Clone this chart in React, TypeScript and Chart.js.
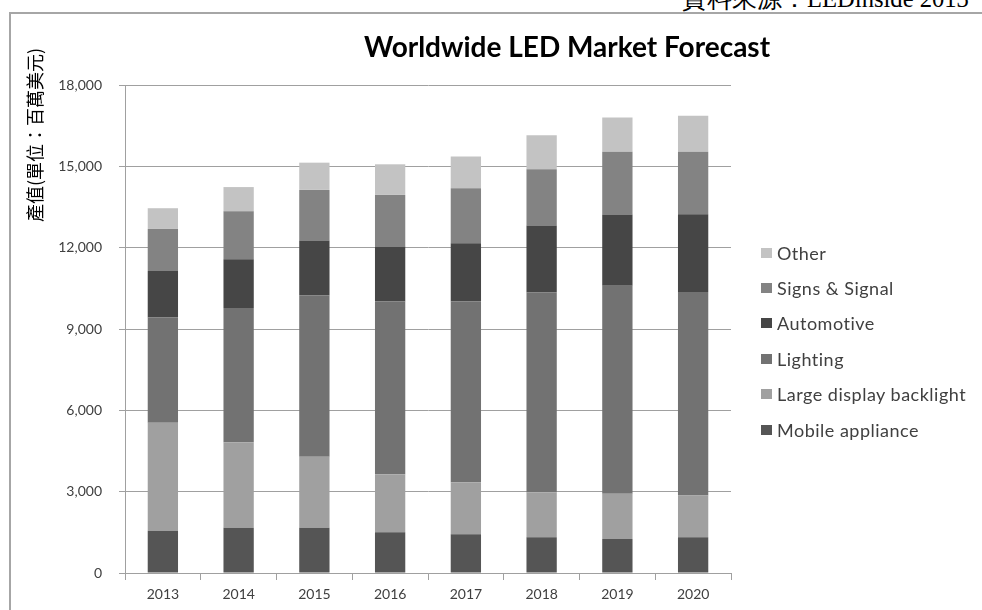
import React, { useEffect, useRef } from "react";
import { Chart, registerables } from "chart.js";

Chart.register(...registerables);

const categories = ["2013", "2014", "2015", "2016", "2017", "2018", "2019", "2020"];
const mobileAppliance = [1560, 1670, 1670, 1500, 1430, 1320, 1250, 1320];
const largeDisplayBacklight = [3985, 3150, 2620, 2140, 1920, 1655, 1670, 1535];
const lighting = [3875, 4955, 5955, 6370, 6665, 7380, 7675, 7510];
const automotive = [1720, 1795, 2015, 2030, 2150, 2460, 2630, 2865];
const signsSignal = [1550, 1770, 1870, 1905, 2030, 2080, 2310, 2310];
const other = [765, 895, 1005, 1130, 1170, 1255, 1265, 1330];

const seriesNames = ["Mobile appliance", "Large display backlight", "Lighting", "Automotive", "Signs & Signal", "Other"];
const seriesColors = ["#555555", "#a0a0a0", "#727272", "#464646", "#838383", "#c3c3c3"];
const seriesValues = [mobileAppliance, largeDisplayBacklight, lighting, automotive, signsSignal, other];

const yMin = 0;
const yMax = 18000;
const yStep = 3000;

const titleText = "Worldwide LED Market Forecast";
const yTitleText = "產值(單位：百萬美元)";
const sourceText = "資料來源：LEDinside 2013";

const FONT = "Lato, 'Open Sans', 'DejaVu Sans', sans-serif";
const GRID = "#a0a0a0";
const TEXT = "#404040";

export default function App() {
  const canvasRef = useRef<HTMLCanvasElement | null>(null);

  useEffect(() => {
    if (!canvasRef.current) return;
    const chart = new Chart(canvasRef.current, {
      type: "bar",
      data: {
        labels: categories,
        datasets: seriesNames.map((name, i) => ({
          label: name,
          data: seriesValues[i],
          backgroundColor: seriesColors[i],
          borderWidth: 0,
          barPercentage: 0.4,
          categoryPercentage: 1,
        })),
      },
      options: {
        responsive: false,
        animation: false,
        layout: { padding: { left: 0, right: 251, top: 85, bottom: 7 } },
        plugins: {
          legend: { display: false },
          title: { display: false },
          tooltip: { enabled: false },
        },
        scales: {
          x: {
            stacked: true,
            offset: true,
            grid: {
              offset: true,
              drawOnChartArea: false,
              drawTicks: true,
              tickLength: 7,
              color: GRID,
            },
            border: { display: true, color: GRID, width: 1 },
            ticks: {
              color: TEXT,
              font: { family: FONT, size: 14 },
              padding: 6,
              maxRotation: 0,
            },
            afterFit: (scale: any) => {
              scale.height = 30;
            },
          },
          y: {
            stacked: true,
            min: yMin,
            max: yMax,
            grid: {
              color: GRID,
              drawTicks: true,
              tickLength: 6,
            },
            border: { display: true, color: GRID, width: 1 },
            ticks: {
              stepSize: yStep,
              color: TEXT,
              font: { family: FONT, size: 14 },
              padding: 17,
              callback: (v: any) => Number(v).toLocaleString("en-US"),
            },
            afterFit: (scale: any) => {
              scale.width = 125;
            },
          },
        },
      },
    });
    return () => chart.destroy();
  }, []);

  const legendOrder = [5, 4, 3, 2, 1, 0];

  return (
    <div
      style={{
        position: "fixed",
        left: 0,
        top: 0,
        width: 982,
        height: 610,
        overflow: "hidden",
        background: "#ffffff",
      }}
    >
      <div
        style={{
          position: "absolute",
          left: 682,
          top: -13.5,
          whiteSpace: "nowrap",
          fontFamily: "'Liberation Serif', 'DejaVu Serif', serif",
          fontSize: 24.6,
          lineHeight: "24.6px",
          color: "#000",
        }}
      >
        {sourceText}
      </div>
      <div
        style={{
          position: "absolute",
          left: 9,
          top: 12,
          width: 1200,
          height: 1000,
          border: "2px solid #a6a6a6",
          boxSizing: "border-box",
        }}
      />
      <canvas
        ref={canvasRef}
        width={982}
        height={610}
        style={{ position: "absolute", left: 0, top: 0, width: 982, height: 610 }}
      />
      <div
        style={{
          position: "absolute",
          left: 567 - 300,
          top: 29.5,
          width: 600,
          textAlign: "center",
          fontFamily: FONT,
          fontWeight: 700,
          fontSize: 28,
          lineHeight: 1.2,
          color: "#000",
          whiteSpace: "nowrap",
        }}
      >
        {titleText}
      </div>
      <div
        style={{
          position: "absolute",
          left: 33.5 - 100,
          top: 134.5 - 12,
          width: 200,
          height: 24,
          lineHeight: "24px",
          textAlign: "center",
          transform: "rotate(-90deg)",
          fontFamily: "'Noto Sans CJK TC', 'Noto Sans CJK SC', sans-serif",
          fontSize: 18,
          color: "#000",
          whiteSpace: "nowrap",
        }}
      >
        {yTitleText}
      </div>
      {legendOrder.map((si, row) => (
        <div
          key={seriesNames[si]}
          style={{
            position: "absolute",
            left: 761,
            top: 252.5 + row * 35.4 - 12,
            height: 24,
            display: "flex",
            alignItems: "center",
            whiteSpace: "nowrap",
          }}
        >
          <span
            style={{
              display: "inline-block",
              width: 11,
              height: 10,
              background: seriesColors[si],
              marginRight: 5,
            }}
          />
          <span
            style={{
              fontFamily: FONT,
              fontSize: 18,
              letterSpacing: 0.5,
              color: TEXT,
              lineHeight: "24px",
            }}
          >
            {seriesNames[si]}
          </span>
        </div>
      ))}
    </div>
  );
}
